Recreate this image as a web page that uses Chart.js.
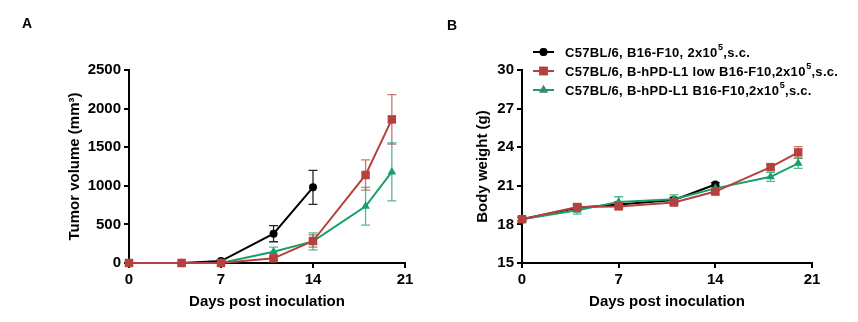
<!DOCTYPE html>
<html>
<head>
    <title>Tumor growth and body weight</title>
    <script src="https://cdn.jsdelivr.net/npm/chart.js"></script>
    <style>
        body { margin: 0; background: #fff; }
        #wrap { position: relative; width: 858px; height: 322px; }
        #tumorChart { position: absolute; left: 0; top: 0; }
        #weightChart { position: absolute; left: 430px; top: 0; }
        .tag { position: absolute; font: bold 14px "Liberation Sans", Arial, sans-serif; color: #000; }
    </style>
</head>
<body>
<div id="wrap">
    <canvas id="tumorChart" width="430" height="322"></canvas>
    <canvas id="weightChart" width="428" height="322"></canvas>
    <div class="tag" style="left:22px; top:15px;">A</div>
    <div class="tag" style="left:447px; top:17px;">B</div>
</div>
<script>
    // days measured
    const days = [0, 4, 7, 11, 14, 18, 20];
    const daysWT = [0, 4, 7, 11, 14];

    // tumor volume (mm3), mean and SEM
    const tumorWT = [0, 0, 25, 380, 980];
    const tumorWTErr = [0, 0, 10, 105, 220];
    const tumorLow = [0, 0, 0, 60, 285, 1140, 1860];
    const tumorLowErr = [0, 0, 0, 20, 80, 195, 320];
    const tumorHi = [0, 0, 0, 145, 280, 735, 1180];
    const tumorHiErr = [0, 0, 0, 60, 110, 245, 375];

    // body weight (g), mean and SEM
    const weightWT = [18.4, 19.3, 19.55, 19.9, 21.1];
    const weightWTErr = [0.15, 0.2, 0.2, 0.2, 0.15];
    const weightLow = [18.4, 19.35, 19.4, 19.7, 20.55, 22.45, 23.6];
    const weightLowErr = [0.15, 0.2, 0.2, 0.2, 0.2, 0.2, 0.45];
    const weightHi = [18.4, 19.1, 19.75, 19.95, 20.8, 21.7, 22.75];
    const weightHiErr = [0.2, 0.3, 0.4, 0.35, 0.2, 0.35, 0.4];

    const legendLabels = [
        ['C57BL/6, B16-F10, 2x10', '5', ',s.c.'],
        ['C57BL/6, B-hPD-L1 low B16-F10,2x10', '5', ',s.c.'],
        ['C57BL/6, B-hPD-L1 B16-F10,2x10', '5', ',s.c.']
    ];

    const BLACK = '#000000', RED = '#b5413f', GREEN = '#16a06a';
    const FONT = '"Liberation Sans", Arial, sans-serif';

    function pts(xs, ys) { return xs.map((x, i) => ({ x: x, y: ys[i] })); }

    function series(xs, ys, errs, color, style, radius, order) {
        return {
            data: pts(xs, ys),
            errors: errs,
            order: order,
            borderColor: color,
            backgroundColor: color,
            borderWidth: 2,
            pointStyle: style,
            pointRadius: radius,
            pointBorderWidth: 0,
            errColor: color === BLACK ? 'rgba(0,0,0,0.85)' : color + 'bb',
            clip: false,
            tension: 0
        };
    }

    // vertical error bars with caps
    const errorBars = {
        id: 'errorBars',
        beforeDatasetsDraw(chart) {
            const ctx = chart.ctx, ys = chart.scales.y, xs = chart.scales.x;
            chart.data.datasets.forEach(ds => {
                ctx.save();
                ctx.strokeStyle = ds.errColor;
                ctx.lineWidth = 1.3;
                ds.data.forEach((p, i) => {
                    const e = ds.errors[i];
                    if (!e) return;
                    const x = xs.getPixelForValue(p.x);
                    const t = ys.getPixelForValue(p.y + e);
                    const b = ys.getPixelForValue(Math.max(ys.min, p.y - e));
                    ctx.beginPath();
                    ctx.moveTo(x, t); ctx.lineTo(x, b);
                    ctx.moveTo(x - 4.5, t); ctx.lineTo(x + 4.5, t);
                    ctx.moveTo(x - 4.5, b); ctx.lineTo(x + 4.5, b);
                    ctx.stroke();
                });
                ctx.restore();
            });
        }
    };

    // legend with superscript exponent, drawn above panel B
    const supLegend = {
        id: 'supLegend',
        afterDraw(chart) {
            if (!chart.options.plugins.supLegend.show) return;
            const ctx = chart.ctx;
            chart.data.datasets.forEach((ds, i) => {
                const y = 52 + i * 19;
                const x0 = 103;
                ctx.save();
                ctx.strokeStyle = ds.borderColor;
                ctx.lineWidth = 2;
                ctx.beginPath();
                ctx.moveTo(x0, y); ctx.lineTo(x0 + 21, y);
                ctx.stroke();
                Chart.helpers.drawPoint(ctx, {
                    pointStyle: ds.pointStyle, radius: ds.pointRadius, borderWidth: 0, rotation: 0
                }, x0 + 10.5, y);
                ctx.fillStyle = ds.borderColor;
                ctx.fill();
                const parts = legendLabels[i];
                ctx.fillStyle = '#000';
                ctx.textBaseline = 'middle';
                ctx.letterSpacing = '0.3px';
                ctx.font = 'bold 13px ' + FONT;
                let x = x0 + 32;
                ctx.fillText(parts[0], x, y + 1);
                x += ctx.measureText(parts[0]).width;
                ctx.font = 'bold 9px ' + FONT;
                ctx.fillText(parts[1], x + 0.5, y - 4);
                x += ctx.measureText(parts[1]).width + 0.5;
                ctx.font = 'bold 13px ' + FONT;
                ctx.fillText(parts[2], x, y + 1);
                ctx.restore();
            });
        }
    };

    function axisOpts(min, max, step, title, fixedSize) {
        return {
            type: 'linear',
            min: min,
            max: max,
            border: { color: '#000', width: 2 },
            grid: { drawOnChartArea: false, drawTicks: true, tickLength: 5, color: '#000', lineWidth: 2 },
            ticks: {
                stepSize: step,
                color: '#000',
                padding: 3,
                callback: v => String(v),
                font: { family: FONT, size: 15, weight: 'bold' }
            },
            title: {
                display: true,
                text: title,
                color: '#000',
                padding: { top: 0, bottom: 0 },
                font: { family: FONT, size: 15, weight: 'bold' }
            },
            afterFit(scale) {
                if (scale.isHorizontal()) scale.height = fixedSize;
                else scale.width = fixedSize;
            }
        };
    }

    function makeChart(id, datasets, yMin, yMax, yStep, yTitle, padLeft, yWidth, padRight, legend) {
        return new Chart(document.getElementById(id), {
            type: 'line',
            data: { datasets: datasets },
            options: {
                responsive: false,
                animation: false,
                layout: { padding: { left: padLeft, right: padRight, top: 70, bottom: 11 } },
                plugins: { legend: { display: false }, tooltip: { enabled: false }, supLegend: { show: legend } },
                scales: {
                    x: axisOpts(0, 21, 7, 'Days post inoculation', 48),
                    y: axisOpts(yMin, yMax, yStep, yTitle, yWidth)
                }
            },
            plugins: [errorBars, supLegend]
        });
    }

    // lower order is drawn on top
    makeChart('tumorChart', [
        series(daysWT, tumorWT, tumorWTErr, BLACK, 'circle', 4, 3),
        series(days, tumorLow, tumorLowErr, RED, 'rect', 6, 1),
        series(days, tumorHi, tumorHiErr, GREEN, 'triangle', 5, 2)
    ], 0, 2500, 500, 'Tumor volume (mm\u00b3)', 66, 63, 25, false);

    makeChart('weightChart', [
        series(daysWT, weightWT, weightWTErr, BLACK, 'circle', 4, 3),
        series(days, weightLow, weightLowErr, RED, 'rect', 6, 1),
        series(days, weightHi, weightHiErr, GREEN, 'triangle', 5, 2)
    ], 15, 30, 3, 'Body weight (g)', 44, 48, 46, true);
</script>
</body>
</html>
